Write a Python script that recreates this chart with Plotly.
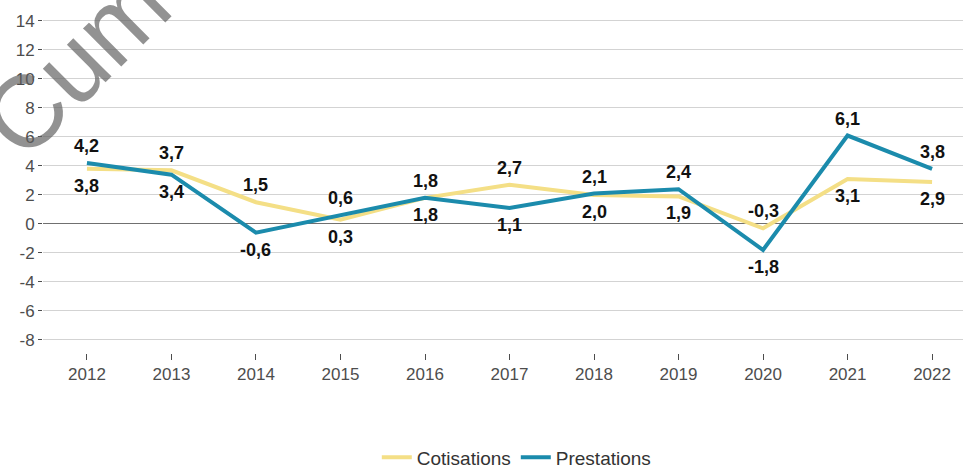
import plotly.graph_objects as go

years = [2012, 2013, 2014, 2015, 2016, 2017, 2018, 2019, 2020, 2021, 2022]
cotisations = [3.8, 3.7, 1.5, 0.3, 1.8, 2.7, 2.0, 1.9, -0.3, 3.1, 2.9]
prestations = [4.2, 3.4, -0.6, 0.6, 1.8, 1.1, 2.1, 2.4, -1.8, 6.1, 3.8]
y_ticks = [-8, -6, -4, -2, 0, 2, 4, 6, 8, 10, 12, 14]

YELLOW = "#f4df86"
TEAL = "#1b8bac"
FONT = "Liberation Sans"

fig = go.Figure()
fig.add_trace(go.Scatter(x=years, y=cotisations, name="Cotisations", mode="lines",
                         line=dict(color=YELLOW, width=4)))
fig.add_trace(go.Scatter(x=years, y=prestations, name="Prestations", mode="lines",
                         line=dict(color=TEAL, width=4)))


def fmt(v):
    return "<b>" + f"{v:.1f}".replace(".", ",") + "</b>"


# value labels: the higher series above its point, the lower one below
label_font = dict(size=18, color="#111111", family=FONT)
annotations = []
for yr, c, p in zip(years, cotisations, prestations):
    hi, lo = (p, c) if p >= c else (c, p)
    annotations.append(dict(x=yr, y=hi, text=fmt(hi), showarrow=False, yshift=17,
                            font=label_font, xref="x", yref="y"))
    annotations.append(dict(x=yr, y=lo, text=fmt(lo), showarrow=False, yshift=-17,
                            font=label_font, xref="x", yref="y"))

# faint watermark in the top-left corner
annotations.append(dict(x=0.035, y=0.85, xref="paper", yref="paper", text="Cum",
                        xanchor="center", yanchor="middle",
                        showarrow=False, textangle=-45,
                        font=dict(size=102, color="rgba(95,95,95,0.68)", family=FONT)))

fig.update_layout(
    width=963, height=470,
    margin=dict(l=43, r=0, t=12, b=117, autoexpand=False),
    plot_bgcolor="white", paper_bgcolor="white",
    font=dict(family=FONT, size=17, color="#4d4d4d"),
    showlegend=True,
    legend=dict(orientation="h", x=0.515, xanchor="center", xref="paper",
                y=-0.306, yanchor="middle", yref="paper",
                font=dict(size=19, color="#333333")),
    annotations=annotations,
)
fig.update_xaxes(range=[2011.48, 2022.366], tickvals=years, ticktext=[str(y) for y in years],
                 showgrid=False, zeroline=False, ticks="outside", ticklen=6,
                 tickcolor="#4d4d4d", tickfont=dict(size=17, color="#4d4d4d"),
                 automargin=False)
fig.update_yaxes(range=[-8.9, 14.62], tickvals=y_ticks, ticktext=[str(t) for t in y_ticks],
                 showgrid=True, gridcolor="#d3d3d3", gridwidth=1.3,
                 zeroline=True, zerolinecolor="#707070", zerolinewidth=1.3,
                 ticks="outside", ticklen=4, tickcolor="#4d4d4d",
                 tickfont=dict(size=17, color="#4d4d4d"), automargin=False)

fig.write_html("out.html")
